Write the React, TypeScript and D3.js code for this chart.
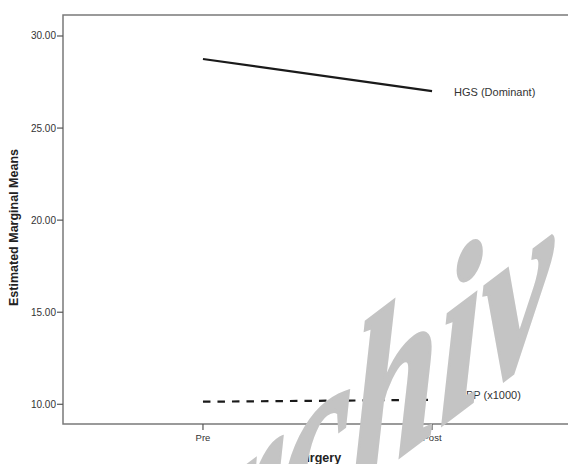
import React, { useEffect, useRef } from 'react';
import { select, scaleLinear, scalePoint, line } from 'd3';

const categories = ['Pre', 'Post'];
const hgsValues = [28.75, 27.01];
const rppValues = [10.14, 10.24];
const yTicks = [10, 15, 20, 25, 30];
const seriesLabels = ['HGS (Dominant)', 'RPP (x1000)'];

const width = 568;
const height = 464;
const font = 'Liberation Sans, Arial, sans-serif';

const App = () => {
  const ref = useRef(null);

  useEffect(() => {
    const svg = select(ref.current);
    svg.selectAll('*').remove();

    const left = 63;
    const right = 572;
    const top = 15;
    const bottom = 424;

    const x = scalePoint().domain(categories).range([left, right]).padding(0.611);
    const y = scaleLinear().domain([8.93, 31.14]).range([bottom, top]);

    // frame (right edge runs off the picture)
    svg
      .append('path')
      .attr('d', `M${right},${top}H${left}V${bottom}H${right}`)
      .attr('fill', 'none')
      .attr('stroke', '#7a7a7a')
      .attr('stroke-width', 1.5);

    // y ticks
    const yt = svg.append('g');
    yt.selectAll('line')
      .data(yTicks)
      .join('line')
      .attr('x1', left - 6)
      .attr('x2', left)
      .attr('y1', (d) => y(d))
      .attr('y2', (d) => y(d))
      .attr('stroke', '#555')
      .attr('stroke-width', 1.2);
    yt.selectAll('text')
      .data(yTicks)
      .join('text')
      .attr('x', left - 7)
      .attr('y', (d) => y(d))
      .attr('dy', '0.35em')
      .attr('text-anchor', 'end')
      .attr('font-family', font)
      .attr('font-size', 10)
      .attr('fill', '#333')
      .text((d) => d.toFixed(2));

    // x ticks
    const xt = svg.append('g');
    xt.selectAll('line')
      .data(categories)
      .join('line')
      .attr('x1', (d) => x(d))
      .attr('x2', (d) => x(d))
      .attr('y1', bottom)
      .attr('y2', bottom + 6)
      .attr('stroke', '#555')
      .attr('stroke-width', 1.2);
    xt.selectAll('text')
      .data(categories)
      .join('text')
      .attr('x', (d) => x(d))
      .attr('y', bottom + 17)
      .attr('text-anchor', 'middle')
      .attr('font-family', font)
      .attr('font-size', 9.5)
      .attr('fill', '#333')
      .text((d) => d);

    // axis titles
    svg
      .append('text')
      .attr('transform', `translate(18,${(top + bottom) / 2 + 8}) rotate(-90)`)
      .attr('text-anchor', 'middle')
      .attr('font-family', font)
      .attr('font-size', 12.5)
      .attr('font-weight', 'bold')
      .attr('fill', '#222')
      .text('Estimated Marginal Means');
    svg
      .append('text')
      .attr('x', (left + right) / 2)
      .attr('y', 462)
      .attr('text-anchor', 'middle')
      .attr('font-family', font)
      .attr('font-size', 12.5)
      .attr('font-weight', 'bold')
      .attr('fill', '#222')
      .text('Surgery');

    // lines
    const gen = line()
      .x((d, i) => x(categories[i]))
      .y((d) => y(d));
    svg
      .append('path')
      .attr('d', gen(hgsValues))
      .attr('fill', 'none')
      .attr('stroke', '#1a1a1a')
      .attr('stroke-width', 2.2);
    svg
      .append('path')
      .attr('d', gen(rppValues))
      .attr('fill', 'none')
      .attr('stroke', '#1a1a1a')
      .attr('stroke-width', 2.2)
      .attr('stroke-dasharray', '7.5,7');

    // series labels
    const lastX = x(categories[categories.length - 1]);
    svg
      .append('text')
      .attr('x', lastX + 22)
      .attr('y', y(hgsValues[1]) + 5)
      .attr('font-family', font)
      .attr('font-size', 11)
      .attr('fill', '#333')
      .text(seriesLabels[0]);
    svg
      .append('text')
      .attr('x', lastX + 26)
      .attr('y', y(rppValues[1]) - 1)
      .attr('font-family', font)
      .attr('font-size', 11)
      .attr('fill', '#333')
      .text(seriesLabels[1]);

    // watermark
    svg
      .append('text')
      .attr('transform', 'translate(552,342) skewY(-37) scale(0.85,1.25)')
      .attr('text-anchor', 'end')
      .attr('font-family', 'Liberation Serif, DejaVu Serif, serif')
      .attr('font-style', 'italic')
      .attr('font-weight', 'bold')
      .attr('font-size', 185)
      .attr('fill', '#c4c4c4')
      .attr('stroke', '#c4c4c4')
      .attr('stroke-width', 3)
      .text('archiv');
  }, []);

  return (
    <svg
      ref={ref}
      width={width}
      height={height}
      style={{ position: 'absolute', left: 0, top: 0, background: '#fff' }}
    />
  );
};

export default App;
